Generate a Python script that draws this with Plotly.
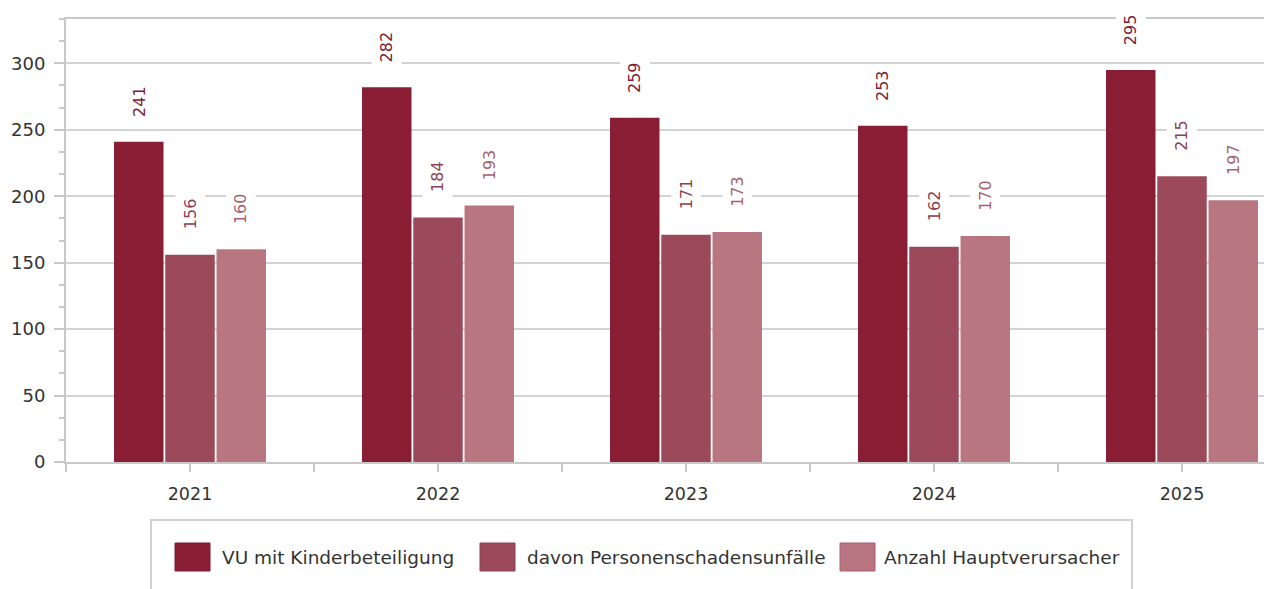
import plotly.graph_objects as go

# ---- data ----
years = ["2021", "2022", "2023", "2024", "2025"]
series_names = ["VU mit Kinderbeteiligung", "davon Personenschadensunfälle", "Anzahl Hauptverursacher"]
vu_kinder = [241, 282, 259, 253, 295]
personenschaden = [156, 184, 171, 162, 215]
hauptverursacher = [160, 193, 173, 170, 197]
y_ticks = [0, 50, 100, 150, 200, 250, 300]

series_values = [vu_kinder, personenschaden, hauptverursacher]
bar_colors = ["#891d33", "#9c4a5b", "#b87680"]
label_colors = ["#7f1c31", "#8d3f51", "#a8616e"]
legend_x_px = [175, 480, 840]   # swatch left edges (page pixels)
legend_text_px = [220, 525, 882]

PAGE_OFF = 8                     # default body margin of the html page
W, H = 1272 - PAGE_OFF, 589 - PAGE_OFF
ML, MR, MT = 66 - PAGE_OFF, 0, 19 - PAGE_OFF
PW, PH = W - ML - MR, 443
MB = H - MT - PH
cat_px = 248.0
BARGAP, GROUPGAP = 0.38, 0.035
FONT = "DejaVu Sans"
GRID = "#d3d3d3"
AX = "#c8c8c8"

def px_x(p):
    return (p - PAGE_OFF - ML) / PW

def px_y(p):
    return (H - MB - (p - PAGE_OFF)) / PH

xs = list(range(len(years)))
fig = go.Figure()
for k, (name, vals) in enumerate(zip(series_names, series_values)):
    fig.add_trace(go.Bar(
        x=xs, y=vals, name=name,
        marker=dict(color=bar_colors[k], line=dict(width=0)),
        showlegend=False,
    ))

# value labels above bars
slot = (1 - BARGAP) / len(series_values)
for k, vals in enumerate(series_values):
    off = (k - (len(series_values) - 1) / 2) * slot
    for i, v in enumerate(vals):
        fig.add_annotation(
            x=i + off, y=v, xref="x", yref="y",
            text=str(v), textangle=-90, showarrow=False,
            xanchor="center", yanchor="bottom", yshift=19,
            font=dict(family=FONT, size=16, color=label_colors[k]),
            bgcolor="white", borderpad=5,
        )

# manual legend (box, swatches, texts)
fig.add_shape(type="rect", xref="paper", yref="paper",
              x0=px_x(151), x1=px_x(1132), y0=px_y(640), y1=px_y(520),
              line=dict(color="#d0d0d0", width=2), fillcolor="white", layer="below")
for k, name in enumerate(series_names):
    fig.add_shape(type="rect", xref="paper", yref="paper",
                  x0=px_x(legend_x_px[k]), x1=px_x(legend_x_px[k] + 35),
                  y0=px_y(571), y1=px_y(543),
                  line=dict(color=label_colors[k], width=1), fillcolor=bar_colors[k])
    fig.add_annotation(
        x=px_x(legend_text_px[k]), y=px_y(557), xref="paper", yref="paper",
        text=name, showarrow=False, xanchor="left", yanchor="middle",
        font=dict(family=FONT, size=18.5, color="#333333"),
    )

x_right = -0.5 + PW / cat_px
fig.update_layout(
    width=W, height=H,
    margin=dict(l=ML, r=MR, t=MT, b=MB, autoexpand=False),
    paper_bgcolor="white", plot_bgcolor="white",
    barmode="group", bargap=BARGAP, bargroupgap=GROUPGAP,
    showlegend=False,
    font=dict(family=FONT, color="#333333"),
    xaxis=dict(
        range=[-0.5, x_right], tickmode="array", tickvals=xs, ticktext=years,
        ticks="outside", ticklen=8, tickwidth=2, tickcolor=AX,
        minor=dict(tickmode="linear", tick0=-0.5, dtick=1, ticks="outside",
                   ticklen=8, tickwidth=2, tickcolor=AX, showgrid=False),
        showline=True, linecolor=AX, linewidth=2, mirror=True,
        showgrid=False, zeroline=False,
        tickfont=dict(family=FONT, size=17.5, color="#333333"),
        ticklabelstandoff=7,
    ),
    yaxis=dict(
        range=[0, 1000 / 3], tickmode="array", tickvals=y_ticks,
        ticks="outside", ticklen=10, tickwidth=2, tickcolor=AX,
        minor=dict(tickmode="linear", tick0=0, dtick=50 / 3, ticks="outside",
                   ticklen=5, tickwidth=2, tickcolor=AX, showgrid=False),
        showline=True, linecolor=AX, linewidth=2,
        showgrid=True, gridcolor=GRID, gridwidth=2, zeroline=False,
        tickfont=dict(family=FONT, size=18, color="#333333"),
        ticklabelstandoff=5,
    ),
)

fig.write_html("out.html")
